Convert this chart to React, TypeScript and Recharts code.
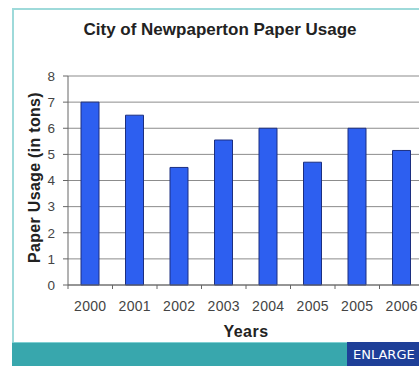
import React from 'react';
import { BarChart, Bar, XAxis, YAxis, CartesianGrid } from 'recharts';

const years = ['2000', '2001', '2002', '2003', '2004', '2005', '2005', '2006'];
const usage = [7, 6.5, 4.5, 5.55, 6, 4.7, 6, 5.15];
const yTicks = [0, 1, 2, 3, 4, 5, 6, 7, 8];

const data = years.map((year, i) => ({ year, usage: usage[i] }));

const FONT = '"Liberation Sans", Arial, sans-serif';
const TICK_GAP = 16;

// category tick: label at the centre, small tick mark at the left band edge
const YearTick = (props: any) => {
  const { x, y, payload } = props;
  const axisY = y - TICK_GAP;
  const edge = x - (payload.offset || 0);
  return (
    <g>
      <line x1={edge} x2={edge} y1={axisY} y2={axisY + 4} stroke="#666" />
      <text x={x} y={y} dy="0.71em" textAnchor="middle" fontSize={14} fill="#444" fontFamily={FONT} letterSpacing={0.3}>
        {payload.value}
      </text>
    </g>
  );
};

const YLabel = (props: any) => {
  const vb = props.viewBox || { x: 0, y: 0, width: 0, height: 0 };
  const cx = 34;
  const cy = vb.y + vb.height / 2 - 3;
  return (
    <text
      x={cx}
      y={cy}
      transform={`rotate(-90, ${cx}, ${cy})`}
      textAnchor="middle"
      dominantBaseline="central"
      fontSize={16}
      fontWeight="bold"
      fill="#222"
      fontFamily={FONT}
      letterSpacing={0.3}
    >
      Paper Usage (in tons)
    </text>
  );
};

export default function App() {
  return (
    <div
      style={{
        position: 'absolute',
        top: 0,
        left: 0,
        width: 419,
        height: 366,
        overflow: 'hidden',
        background: '#fff',
        fontFamily: FONT,
      }}
    >
      {/* light teal frame */}
      <div style={{ position: 'absolute', left: 12, top: 8, width: 420, height: 340, borderLeft: '2px solid #9edada', borderTop: '2px solid #9edada' }} />
      <div
        style={{
          position: 'absolute',
          left: 0,
          top: 20,
          width: 440,
          textAlign: 'center',
          fontSize: 17,
          fontWeight: 'bold',
          color: '#222',
          lineHeight: '20px',
        }}
      >
        City of Newpaperton Paper Usage
      </div>
      <div style={{ position: 'absolute', left: 0, top: 0 }}>
        <BarChart width={440} height={342} data={data} margin={{ top: 76, right: 16, left: 0, bottom: 0 }}>
          <CartesianGrid vertical={false} stroke="#808080" strokeOpacity={0.9} />
          <XAxis
            dataKey="year"
            height={57}
            axisLine={{ stroke: '#666' }}
            tickLine={false}
            tickSize={0}
            tickMargin={TICK_GAP}
            tick={<YearTick />}
            interval={0}
            label={{ value: 'Years', position: 'insideBottom', offset: 5, fontSize: 16, fontWeight: 'bold', fill: '#222', fontFamily: FONT, letterSpacing: 0.5 }}
          />
          <YAxis
            width={68}
            domain={[0, 8]}
            ticks={yTicks}
            interval={0}
            axisLine={{ stroke: '#666' }}
            tickLine={{ stroke: '#666' }}
            tickSize={5}
            tickMargin={8}
            tick={{ fontSize: 13.5, fill: '#444', fontFamily: FONT }}
            label={<YLabel />}
          />
          <Bar dataKey="usage" fill="#2d5ff0" stroke="#1c2f80" strokeWidth={1} barSize={18} isAnimationActive={false} />
        </BarChart>
      </div>
      {/* bottom band */}
      <div style={{ position: 'absolute', left: 12, top: 342, width: 420, height: 24, background: '#38a7ad', borderTop: '1px solid #7fcfd2' }} />
      <div
        style={{
          position: 'absolute',
          left: 347,
          top: 342,
          width: 72,
          height: 24,
          background: '#1e3f98',
          color: '#fff',
          fontFamily: '"DejaVu Sans", sans-serif',
          fontSize: 13,
          lineHeight: '26px',
          paddingLeft: 6,
          boxSizing: 'border-box',
          whiteSpace: 'nowrap',
        }}
      >
        ENLARGE
      </div>
    </div>
  );
}
